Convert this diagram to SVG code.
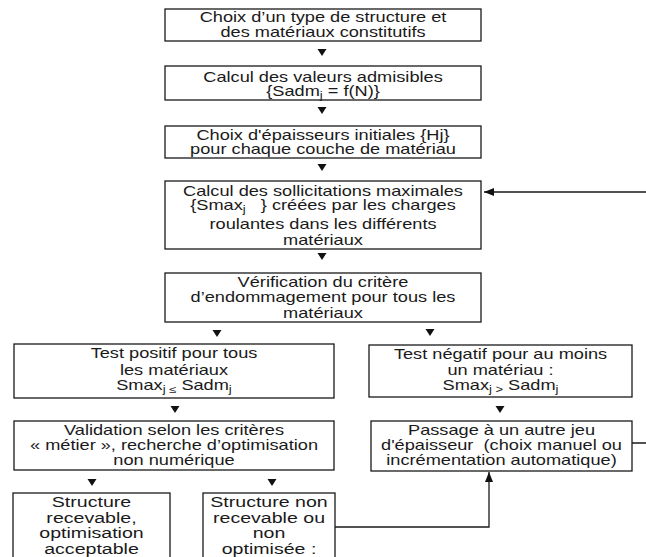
<svg xmlns="http://www.w3.org/2000/svg" width="646" height="557" viewBox="0 0 646 557">
<style>
.box{fill:#fff;stroke:#1a1a1a;stroke-width:1.3}
.t{font-family:"Liberation Sans",Arial,sans-serif;font-size:14px;fill:#1a1a1a;text-anchor:middle}
.tb{font-family:"Liberation Sans",Arial,sans-serif;font-size:14.5px;fill:#1a1a1a;text-anchor:middle}
.sub{font-size:10px}
.tri{fill:#111}
.ln{fill:none;stroke:#1a1a1a;stroke-width:1.3}
</style>
<defs>
<marker id="ah" viewBox="0 0 10 10" refX="10" refY="5" markerWidth="10" markerHeight="10" markerUnits="userSpaceOnUse" orient="auto">
<path d="M0,1 L10,5 L0,9 Z" fill="#111"/>
</marker>
</defs>
<rect width="646" height="557" fill="#fff"/>

<g id="n1">
<rect class="box" x="165" y="9" width="316" height="32"/>
<g transform="translate(323 0) scale(1.3 1)">
<text class="t" x="0" y="22.5">Choix d’un type de structure et</text>
<text class="t" x="0" y="37">des matériaux constitutifs</text>
</g>
</g>

<g id="n2">
<rect class="box" x="165" y="66" width="316" height="34"/>
<g transform="translate(323 0) scale(1.3 1)">
<text class="t" x="0" y="82">Calcul des valeurs admisibles</text>
<text class="t" x="0" y="96">{Sadm<tspan class="sub" dy="3">j</tspan><tspan dy="-3"> = f(N)}</tspan></text>
</g>
</g>

<g id="n3">
<rect class="box" x="165" y="126" width="316" height="32"/>
<g transform="translate(323 0) scale(1.3 1)">
<text class="t" x="0" y="140">Choix d'épaisseurs initiales {Hj}</text>
<text class="t" x="0" y="154">pour chaque couche de matériau</text>
</g>
</g>

<g id="n4">
<rect class="box" x="165" y="181" width="316" height="68"/>
<g transform="translate(323 0) scale(1.3 1)">
<text class="t" x="0" y="196">Calcul des sollicitations maximales</text>
<text class="t" x="0" y="210.5">{Smax<tspan class="sub" dy="3">j</tspan><tspan dy="-3">&#160;&#160; } créées par les charges</tspan></text>
<text class="t" x="0" y="229.5">roulantes dans les différents</text>
<text class="t" x="0" y="245.5">matériaux</text>
</g>
</g>

<g id="n5">
<rect class="box" x="165" y="273" width="316" height="49"/>
<g transform="translate(323 0) scale(1.3 1)">
<text class="t" x="0" y="287">Vérification du critère</text>
<text class="t" x="0" y="302">d’endommagement pour tous les</text>
<text class="t" x="0" y="318">matériaux</text>
</g>
</g>

<g id="n6">
<rect class="box" x="14" y="344" width="320" height="54"/>
<g transform="translate(174 0) scale(1.3 1)">
<text class="t" x="0" y="358">Test positif pour tous</text>
<text class="t" x="0" y="375">les matériaux</text>
<text class="t" x="0" y="390">Smax<tspan class="sub" dy="3">j ≤</tspan><tspan dy="-3"> Sadm</tspan><tspan class="sub" dy="3">j</tspan></text>
</g>
</g>

<g id="n7">
<rect class="box" x="369" y="345" width="263" height="52"/>
<g transform="translate(500.5 0) scale(1.3 1)">
<text class="t" x="0" y="359">Test négatif pour au moins</text>
<text class="t" x="0" y="375">un matériau :</text>
<text class="t" x="0" y="390">Smax<tspan class="sub" dy="3">j &gt;</tspan><tspan dy="-3"> Sadm</tspan><tspan class="sub" dy="3">j</tspan></text>
</g>
</g>

<g id="n8">
<rect class="box" x="14" y="421" width="320" height="49"/>
<g transform="translate(174 0) scale(1.3 1)">
<text class="t" x="0" y="435">Validation selon les critères</text>
<text class="t" x="0" y="450">« métier », recherche d’optimisation</text>
<text class="t" x="0" y="465">non numérique</text>
</g>
</g>

<g id="n9">
<rect class="box" x="371" y="421" width="261" height="50"/>
<g transform="translate(501.5 0) scale(1.3 1)">
<text class="t" x="0" y="435">Passage à un autre jeu</text>
<text class="t" x="0" y="450">d'épaisseur&#160; (choix manuel ou</text>
<text class="t" x="0" y="465">incrémentation automatique)</text>
</g>
</g>

<g id="n10">
<rect class="box" x="13" y="493" width="157" height="80"/>
<g transform="translate(91.5 0) scale(1.35 1)">
<text class="tb" x="0" y="507.5">Structure</text>
<text class="tb" x="0" y="523">recevable,</text>
<text class="tb" x="0" y="538.5">optimisation</text>
<text class="tb" x="0" y="554">acceptable</text>
</g>
</g>

<g id="n11">
<rect class="box" x="203" y="493" width="132" height="80"/>
<g transform="translate(269 0) scale(1.35 1)">
<text class="tb" x="0" y="507.5">Structure non</text>
<text class="tb" x="0" y="523">recevable ou</text>
<text class="tb" x="0" y="538.5">non</text>
<text class="tb" x="0" y="554">optimisée :</text>
</g>
</g>

<g id="connectors">
<polygon class="tri" points="317.5,49 326.5,49 322,56"/>
<polygon class="tri" points="317.5,107 326.5,107 322,114"/>
<polygon class="tri" points="317.5,164 326.5,164 322,171"/>
<polygon class="tri" points="317.5,253 326.5,253 322,260"/>
<polygon class="tri" points="212.5,330 221.5,330 217,337"/>
<polygon class="tri" points="425.5,329 434.5,329 430,336"/>
<polygon class="tri" points="170.5,406 179.5,406 175,413"/>
<polygon class="tri" points="495.5,406 504.5,406 500,413"/>
<polygon class="tri" points="87.5,479 96.5,479 92,486"/>
<polygon class="tri" points="267.5,479 276.5,479 272,486"/>
<path class="ln" d="M632,443 H652 V192 H484" marker-end="url(#ah)"/>
<path class="ln" d="M335,527 H489 V472" marker-end="url(#ah)"/>
</g>
</svg>
